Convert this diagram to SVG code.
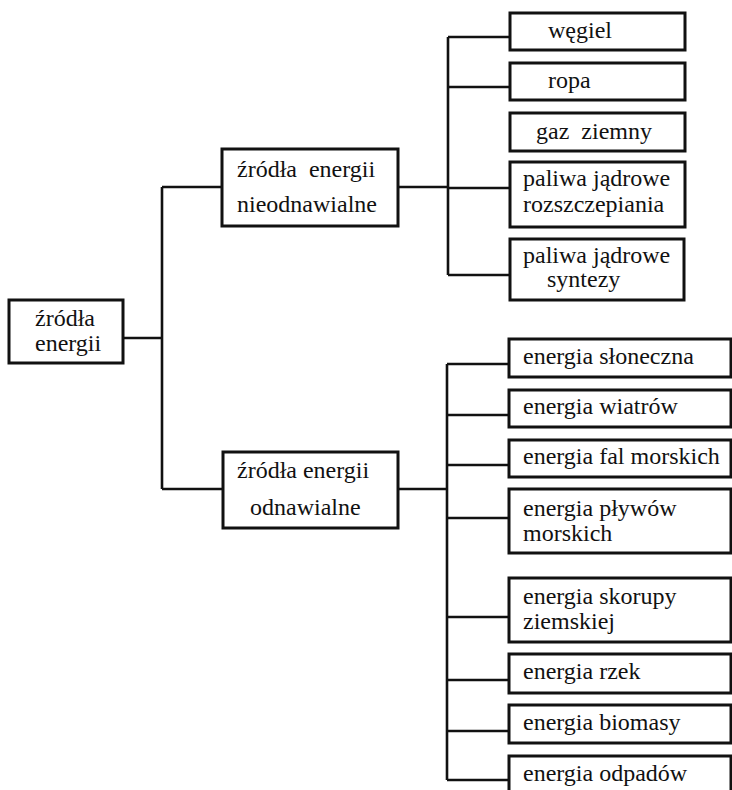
<svg xmlns="http://www.w3.org/2000/svg" width="732" height="790" viewBox="0 0 732 790">
<style>
.box{fill:#fff;stroke:#111;stroke-width:3}
.ln{fill:none;stroke:#111;stroke-width:2.6}
</style>
<rect width="732" height="790" fill="#fff"/>
<g id="connectors">
<path class="ln" d="M123,338H162M162,187V489M162,187H222M162,489H223"/>
<path class="ln" d="M398,187H448M448,37V275M448,37H510M448,87H510M448,188H510M448,275H510"/>
<path class="ln" d="M398,489H447M447,364V780M447,364H509M447,415H509M447,465H509M447,518H509M447,617H509M447,680H509M447,731H509M447,780H509"/>
</g>
<g font-family="'Liberation Serif', 'DejaVu Serif', serif" font-size="24" fill="#111">
<g id="root"><rect class="box" x="9" y="300" width="114" height="63"/><text x="35" y="326">źródła</text><text x="35" y="351">energii</text></g>
<g id="nieodnawialne"><rect class="box" x="222" y="149" width="176" height="77"/><text x="237" y="177" xml:space="preserve">źródła  energii</text><text x="237" y="212">nieodnawialne</text></g>
<g id="odnawialne"><rect class="box" x="223" y="452" width="175" height="76"/><text x="237" y="478">źródła energii</text><text x="250" y="515">odnawialne</text></g>
<g id="wegiel"><rect class="box" x="510" y="13" width="175" height="37"/><text x="548" y="38">węgiel</text></g>
<g id="ropa"><rect class="box" x="510" y="63" width="175" height="37"/><text x="548" y="88">ropa</text></g>
<g id="gaz"><rect class="box" x="510" y="113" width="175" height="38"/><text x="536" y="139" xml:space="preserve">gaz  ziemny</text></g>
<g id="rozszczepiania"><rect class="box" x="510" y="162" width="175" height="65"/><text x="523" y="186">paliwa jądrowe</text><text x="523" y="212">rozszczepiania</text></g>
<g id="syntezy"><rect class="box" x="510" y="239" width="174" height="61"/><text x="523" y="263">paliwa jądrowe</text><text x="547" y="287">syntezy</text></g>
<g id="sloneczna"><rect class="box" x="509" y="339" width="222" height="38"/><text x="523" y="364">energia słoneczna</text></g>
<g id="wiatrow"><rect class="box" x="509" y="390" width="222" height="37"/><text x="523" y="414">energia wiatrów</text></g>
<g id="fal"><rect class="box" x="509" y="440" width="222" height="37"/><text x="523" y="464">energia fal morskich</text></g>
<g id="plywow"><rect class="box" x="509" y="489" width="222" height="64"/><text x="523" y="516">energia pływów</text><text x="523" y="541">morskich</text></g>
<g id="skorupy"><rect class="box" x="509" y="578" width="222" height="64"/><text x="523" y="604">energia skorupy</text><text x="523" y="629">ziemskiej</text></g>
<g id="rzek"><rect class="box" x="509" y="654" width="222" height="39"/><text x="523" y="679">energia rzek</text></g>
<g id="biomasy"><rect class="box" x="509" y="705" width="222" height="38"/><text x="523" y="730">energia biomasy</text></g>
<g id="odpadow"><rect class="box" x="509" y="756" width="222" height="40"/><text x="523" y="781">energia odpadów</text></g>
</g>
</svg>
